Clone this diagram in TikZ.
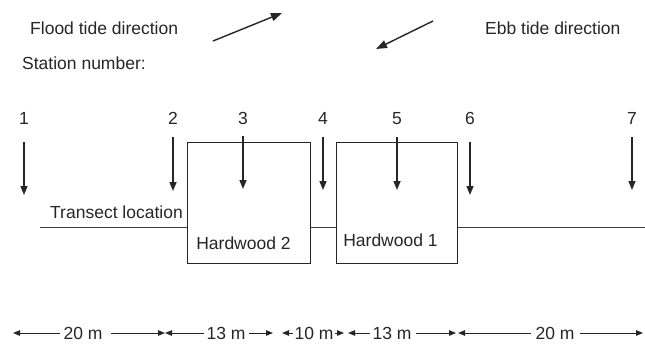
\documentclass[tikz,border=0pt]{standalone}
\usepackage{fontspec}
\setmainfont{Liberation Sans}
\usetikzlibrary{arrows.meta}
\begin{document}
\begin{tikzpicture}[x=1pt,y=-1pt,
  txt/.style={font=\fontsize{17.5}{20}\selectfont, text=black!85, inner sep=0pt},
  stationarrow/.style={line width=1.4pt, draw=black!85, -{Triangle[length=9pt,width=7pt]}},
  tidearrow/.style={line width=1.4pt, draw=black!85, -{Triangle[length=11pt,width=8pt]}},
  dimarrow/.style={line width=1pt, draw=black!85, -{Triangle[length=7pt,width=5.5pt]}},
  woodbox/.style={draw=black!85, line width=1.1pt, fill=white},
  transect/.style={draw=black!75, line width=1pt}]
\useasboundingbox (0,0) rectangle (645,343);
% headings
\node[txt, anchor=base west] (flood) at (30,34) {Flood tide direction};
\node[txt, anchor=base west] (ebb) at (485,34) {Ebb tide direction};
\node[txt, anchor=base west] (stn) at (22,69) {Station number:};
% tide arrows
\coordinate (fa) at (213,41); \coordinate (fb) at (282,13);
\coordinate (ea) at (433,21); \coordinate (eb) at (376,49);
\draw[tidearrow] (fa) -- (fb);
\draw[tidearrow] (ea) -- (eb);
% transect line
\coordinate (tl) at (40,227); \coordinate (tr) at (645,227);
\draw[transect] (tl) -- (tr);
% boxes
\node[woodbox, minimum width=123pt, minimum height=121pt, anchor=north west] (hw2) at (187,142) {};
\node[woodbox, minimum width=121pt, minimum height=121pt, anchor=north west] (hw1) at (336,142) {};
\node[txt, anchor=base] (hw2t) at (243.5,249) {Hardwood 2};
\node[txt, anchor=base] (hw1t) at (390.5,246) {Hardwood 1};
\node[txt, anchor=base west] (tloc) at (50,218) {Transect location};
% stations
\foreach \n/\x/\t/\b in {1/24/142/195, 2/173/137/191, 3/243/136/189, 4/323/137/190, 5/397/137/190, 6/470/142/195, 7/632/137/190}{
  \node[txt, anchor=base] (s\n) at (\x,124) {\n};
  \coordinate (a\n) at (\x,\t);
  \coordinate (b\n) at (\x,\b);
  \draw[stationarrow] (a\n) -- (b\n);
}
% dimension row
\coordinate (d0) at (13,333); \coordinate (d1l) at (165,333); \coordinate (d1r) at (165,333);
\coordinate (d2l) at (273,333); \coordinate (d2r) at (282,333);
\coordinate (d3l) at (344,333); \coordinate (d3r) at (348,333);
\coordinate (d4l) at (456,333); \coordinate (d4r) at (458,333);
\coordinate (d5) at (643,333);
\node[txt, anchor=base] (m1) at (83,339) {20 m};
\node[txt, anchor=base] (m2) at (226,339) {13 m};
\node[txt, anchor=base] (m3) at (314,339) {10 m};
\node[txt, anchor=base] (m4) at (392,339) {13 m};
\node[txt, anchor=base] (m5) at (555,339) {20 m};
\draw[dimarrow] ([xshift=-3pt]m1.west |- d0) -- (d0);
\draw[dimarrow] ([xshift=8pt]m1.east |- d0) -- (d1l);
\draw[dimarrow] ([xshift=-2pt]m2.west |- d0) -- (d1r);
\draw[dimarrow] ([xshift=3pt]m2.east |- d0) -- (d2l);
\draw[dimarrow] ([xshift=-1pt]m3.west |- d0) -- (d2r);
\draw[dimarrow] ([xshift=1pt]m3.east |- d0) -- (d3l);
\draw[dimarrow] ([xshift=-2pt]m4.west |- d0) -- (d3r);
\draw[dimarrow] ([xshift=4pt]m4.east |- d0) -- (d4l);
\draw[dimarrow] ([xshift=-4pt]m5.west |- d0) -- (d4r);
\draw[dimarrow] ([xshift=5pt]m5.east |- d0) -- (d5);
\end{tikzpicture}
\end{document}
